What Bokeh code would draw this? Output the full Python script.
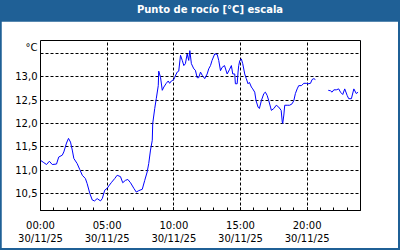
import math
from bokeh.plotting import figure
from bokeh.models import (ColumnDataSource, FixedTicker, Range1d, Div)
from bokeh.layouts import column
from bokeh.embed import file_html
from bokeh.resources import INLINE

title_text = "Punto de rocío [°C] escala"
unit_label = "°C"
date_label = "30/11/25"
tick_hours = [0, 5, 10, 15, 20]
grid_values = [10.5, 11.0, 11.5, 12.0, 12.5, 13.0, 13.5]
label_values = [10.5, 11.0, 11.5, 12.0, 12.5, 13.0]
unit_pos = 13.63

times = [
    "00:00", "00:15", "00:27", "00:40", "00:53", "01:12", "01:22", "01:38", "01:45", "01:57",
    "02:06", "02:15", "02:23", "02:30", "02:45", "02:57", "03:08", "03:22", "03:30", "03:42",
    "03:53", "04:03", "04:15", "04:30", "04:38", "04:49", "05:00", "05:07", "05:20", "05:34",
    "05:45", "06:00", "06:10", "06:22", "06:33", "06:45", "07:00", "07:11", "07:22", "07:38",
    "07:49", "08:00", "08:07", "08:15", "08:23", "08:25", "08:34", "08:41", "08:50", "08:52",
    "09:00", "09:08", "09:15", "09:26", "09:35", "09:41", "09:49", "10:00", "10:04", "10:15",
    "10:22", "10:30", "10:38", "10:45", "10:52", "11:00", "11:07", "11:12", "11:19", "11:30",
    "11:37", "11:45", "11:52", "12:00", "12:08", "12:19", "12:30", "12:37", "12:45", "12:52",
    "13:04", "13:15", "13:22", "13:30", "13:37", "13:48", "14:00", "14:10", "14:19", "14:25",
    "14:34", "14:37", "14:45", "14:49", "14:52", "14:57", "15:04", "15:10", "15:19", "15:26",
    "15:34", "15:40", "15:49", "15:55", "16:04", "16:10", "16:19", "16:25", "16:34", "16:45",
    "16:52", "17:00", "17:07", "17:15", "17:19", "17:30", "17:41", "17:52", "18:03", "18:08",
    "18:10", "18:15", "18:19", "18:30", "18:41", "18:52", "19:00", "19:07", "19:15", "19:22",
    "19:34", "19:45", "19:56", "20:04", "20:15", "20:22", "20:30", "20:37",
    "21:00",
    "21:35", "21:45", "21:52", "22:00", "22:11", "22:22", "22:30", "22:40", "22:49", "23:00",
    "23:07", "23:19", "23:30", "23:41", "23:49",
]
dew_point = [
    11.21, 11.16, 11.12, 11.19, 11.12, 11.13, 11.28, 11.32, 11.39, 11.58,
    11.68, 11.60, 11.43, 11.25, 11.14, 11.01, 10.89, 10.82, 10.71, 10.50,
    10.36, 10.34, 10.39, 10.34, 10.39, 10.57, 10.61, 10.66, 10.74, 10.82,
    10.89, 10.86, 10.73, 10.78, 10.80, 10.73, 10.61, 10.53, 10.56, 10.59,
    10.78, 10.96, 11.14, 11.43, 11.64, 12.00, 12.32, 12.53, 12.81, 13.12,
    12.99, 12.71, 12.78, 12.86, 12.91, 12.86, 12.91, 12.94, 12.99, 13.10,
    13.12, 13.46, 13.35, 13.24, 13.28, 13.49, 13.35, 13.56, 13.28, 13.17,
    13.14, 12.98, 12.98, 13.10, 13.03, 12.96, 13.06, 13.17, 13.24, 13.35,
    13.49, 13.48, 13.35, 13.13, 13.20, 13.24, 13.06, 13.15, 13.24, 13.06,
    13.06, 12.85, 12.85, 13.10, 13.24, 13.35, 13.38, 13.28, 13.06, 12.96,
    12.85, 12.88, 12.78, 12.74, 12.67, 12.49, 12.35, 12.32, 12.49, 12.64,
    12.67, 12.60, 12.49, 12.35, 12.28, 12.32, 12.39, 12.35, 12.28, 12.03,
    12.00, 12.18, 12.39, 12.39, 12.39, 12.42, 12.49, 12.64, 12.74, 12.81,
    12.81, 12.86, 12.86, 12.85, 12.86, 12.94, 12.96, 12.94,
    float("nan"),
    12.71, 12.70, 12.67, 12.72, 12.72, 12.74, 12.67, 12.62, 12.74, 12.60,
    12.53, 12.53, 12.74, 12.64, 12.67,
]

hours = [int(t[:2]) + int(t[3:]) / 60.0 for t in times]
src = ColumnDataSource(dict(h=hours, v=dew_point))

BLUE = "#1F6096"
FONT = "DejaVu Sans"

p = figure(width=397, height=227, output_backend="svg", toolbar_location=None,
           x_range=Range1d(0, 24), y_range=Range1d(10.135, 13.777),
           min_border_left=39, min_border_right=38, min_border_top=19, min_border_bottom=38,
           margin=(0, 2, 2, 1))
p.background_fill_color = "white"
p.border_fill_color = "white"
p.outline_line_color = "black"
p.outline_line_width = 1

p.line("h", "v", source=src, line_color="#0000FF", line_width=1)

p.xaxis.ticker = FixedTicker(ticks=tick_hours, minor_ticks=list(range(0, 25)))
p.xaxis.major_label_overrides = {h: "%02d:00\n%s" % (h, date_label) for h in tick_hours}
p.xaxis.major_tick_in = 3
p.xaxis.major_tick_out = 0
p.xaxis.minor_tick_in = 3
p.xaxis.minor_tick_out = 0
p.xaxis.major_tick_line_color = "black"
p.xaxis.minor_tick_line_color = "black"
p.xaxis.axis_line_color = "black"
p.xaxis.major_label_standoff = 9
p.xaxis.major_label_text_font = FONT
p.xaxis.major_label_text_font_size = "10px"
p.xaxis.major_label_text_color = "black"

p.yaxis.ticker = FixedTicker(ticks=label_values + [unit_pos])
overrides = {t: ("%.1f" % t).replace(".", ",") for t in label_values}
overrides[unit_pos] = unit_label
p.yaxis.major_label_overrides = overrides
p.yaxis.major_tick_in = 0
p.yaxis.major_tick_out = 0
p.yaxis.minor_tick_line_color = None
p.yaxis.axis_line_color = None
p.yaxis.major_label_standoff = 3
p.yaxis.major_label_text_font = FONT
p.yaxis.major_label_text_font_size = "10px"
p.yaxis.major_label_text_color = "black"

for g in (p.xgrid, p.ygrid):
    g.grid_line_color = "black"
    g.grid_line_dash = "3 2"
    g.grid_line_width = 1
p.xgrid.ticker = FixedTicker(ticks=tick_hours)
p.ygrid.ticker = FixedTicker(ticks=grid_values)

head = Div(text=('<div style="width:400px;height:21px;line-height:20px;text-align:center;'
                 'padding-left:20px;box-sizing:border-box;color:white;font-weight:bold;'
                 'font-family:\'DejaVu Sans\';font-size:10px;white-space:nowrap;">'
                 + title_text + '</div>'),
           width=400, height=21, margin=0,
           styles={"background-color": BLUE})

layout = column(head, p, spacing=0, margin=0, styles={"background-color": BLUE})

open("out.html", "w").write(file_html(layout, INLINE))
